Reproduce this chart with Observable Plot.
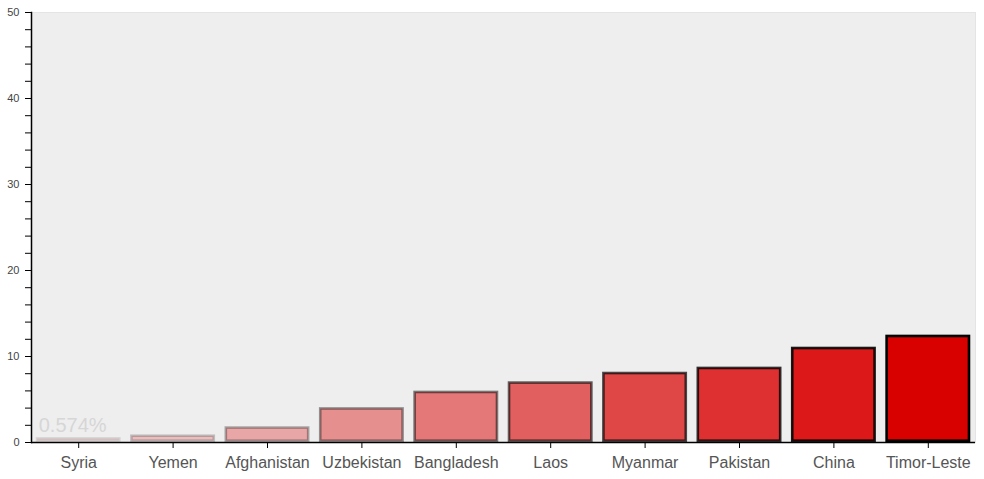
<!DOCTYPE html>
<html>
<head>
<meta charset="utf-8">
<script src="https://cdn.jsdelivr.net/npm/d3@7"></script>
<script src="https://cdn.jsdelivr.net/npm/@observablehq/plot@0.6"></script>
<style>
  html, body { margin: 0; padding: 0; background: #fff; }
  #chart { width: 984px; height: 479px; }
</style>
</head>
<body>
<div id="chart"></div>
<script>
const countries = ["Syria", "Yemen", "Afghanistan", "Uzbekistan", "Bangladesh", "Laos", "Myanmar", "Pakistan", "China", "Timor-Leste"];
const values = [0.574, 0.88, 1.83, 4.05, 5.97, 7.06, 8.17, 8.76, 11.08, 12.48];
const yLabelTicks = [0, 10, 20, 30, 40, 50];
const yMinorTicks = [0, 2, 4, 6, 8, 10, 12, 14, 16, 18, 20, 22, 24, 26, 28, 30, 32, 34, 36, 38, 40, 42, 44, 46, 48, 50];

const data = countries.map((c, i) => ({country: c, value: values[i], rank: i}));
const highlighted = [data[0]];

const chart = Plot.plot({
  width: 984,
  height: 479,
  marginLeft: 31,
  marginRight: 9,
  marginTop: 12,
  marginBottom: 37,
  style: {fontFamily: "'Liberation Sans', Arial, sans-serif", background: "#fff"},
  x: {domain: countries, paddingInner: 0.1, paddingOuter: 0.05, round: false, label: null},
  y: {domain: [0, 50], label: null},
  marks: [
    Plot.frame({fill: "#eeeeee", stroke: "#e4e4e4"}),
    Plot.barY(data, {
      x: "country", y: "value",
      fill: "#d90000",
      fillOpacity: d => (d.rank + 1) / 10,
      stroke: "#000",
      strokeOpacity: d => (d.rank + 1) / 10,
      strokeWidth: 2.6,
      inset: 1.3
    }),
    Plot.text(highlighted, {
      x: "country", y: "value",
      text: d => d.value + "%",
      textAnchor: "start",
      dx: -40, dy: -12,
      fontSize: 20,
      fontWeight: "normal",
      fill: "#d6d6d6"
    }),
    Plot.axisY({ticks: yMinorTicks, tickFormat: d => yLabelTicks.includes(d) ? d : "", tickSize: 6, tickPadding: 6, fontSize: 11, color: "#444", stroke: "#000"}),
    Plot.axisX({tickSize: 6, tickPadding: 8, fontSize: 16, color: "#555", stroke: "#000"}),
    Plot.ruleY([0], {stroke: "#000", strokeWidth: 1.5}),
    Plot.frame({anchor: "left", stroke: "#000", strokeWidth: 1.5})
  ]
});
document.getElementById("chart").appendChild(chart);
</script>
</body>
</html>
